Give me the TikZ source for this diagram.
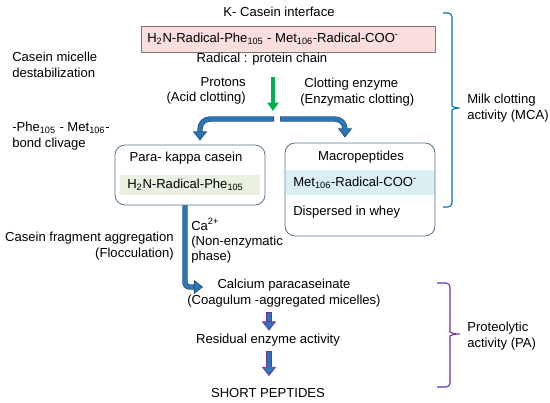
\documentclass[tikz,border=0pt]{standalone}
\usepackage{fontspec}
\setmainfont{Liberation Sans}
\usepackage{xcolor}
\usetikzlibrary{arrows.meta,calc}

\definecolor{rosa}{RGB}{250,222,222}
\definecolor{bordo}{RGB}{120,120,120}
\definecolor{verdino}{RGB}{234,240,224}
\definecolor{azzurrino}{RGB}{218,238,244}
\definecolor{cornice}{RGB}{90,115,140}
\definecolor{freccia}{RGB}{46,117,182}
\definecolor{frecciabordo}{RGB}{31,78,121}
\definecolor{verde}{RGB}{0,176,80}
\definecolor{viola}{RGB}{112,48,160}
\definecolor{blu}{RGB}{0,112,192}

\begin{document}
\begin{tikzpicture}[x=0.25mm, y=-0.25mm,
		line join=round,
		every node/.style={font=\fontsize{9.3}{11}\selectfont, inner sep=0pt},
		lbl/.style={align=center},
		sx/.style={anchor=west, align=left},
		scatola/.style={draw=cornice, line width=0.6pt, rounded corners=2.5mm, minimum width=37.5mm},
		fascia/.style={minimum height=5mm},
		fatarrow/.style={draw=#1, line width=3.8pt,
				-{Triangle[width=10pt,length=6.5pt,fill=freccia,line width=0.5pt]},
				postaction={draw=freccia, line width=2.8pt, shorten <=0.5pt, shorten >=6.7pt, -}},
		graffa/.style={draw=#1, line width=0.8pt, rounded corners=1mm}]

	\useasboundingbox (0,0) rectangle (550,403);

	% ---- interfaccia della k-caseina ----
	\node[lbl] (kcas) at (279,12) {K- Casein interface};
	\node[draw=bordo, fill=rosa, line width=0.5pt, minimum width=73.5mm, minimum height=6.5mm]
	(catena) at (288,39) {};
	\node[sx] (catenaseq) at (147,39)
	{H\textsubscript{2}N-Radical-Phe\textsubscript{105} - Met\textsubscript{106}-Radical-COO\textsuperscript{-}};
	\node[lbl] (radical) at (262,59) {Radical : protein chain};

	% ---- testi a sinistra ----
	\node[sx] (destab) at (12,65) {Casein micelle\\destabilization};
	\node[sx] (legame) at (12,136) {-Phe\textsubscript{105} - Met\textsubscript{106}-\\bond clivage};
	\node[anchor=east, align=right] (flocc) at (174,246) {Casein fragment aggregation\\(Flocculation)};

	% ---- agenti coagulanti ----
	\node[anchor=east, align=right] (protons) at (246,91) {Protons\\(Acid clotting)};
	\node[sx] (enzima) at (300,92) {\hspace*{3pt}Clotting enzyme\\(Enzymatic clotting)};

	% ---- para-kappa caseina ----
	\node[fascia, fill=verdino, minimum width=35mm] (paraband) at (190,185) {};
	\node[scatola, minimum height=15mm] (para) at (190,175) {};
	\node[lbl] (paratit) at (186,158) {Para- kappa casein};
	\node[sx] (paraseq) at (127,185) {H\textsubscript{2}N-Radical-Phe\textsubscript{105}};

	% ---- macropeptidi ----
	\node[fascia, fill=azzurrino, minimum width=37mm, minimum height=6.25mm] (macroband) at (360.5,182.5) {};
	\node[scatola, minimum height=23.25mm] (macro) at (360,189.5) {};
	\node[lbl] (macrotit) at (361,157) {Macropeptides};
	\node[sx] (macroseq) at (293,183) {Met\textsubscript{106}-Radical-COO\textsuperscript{-}};
	\node[sx] (siero) at (293,212) {Dispersed in whey};

	% ---- fase non enzimatica ----
	\node[sx] (calcio) at (191,241) {Ca\textsuperscript{2+}\\(Non-enzymatic\\phase)};
	\node[lbl] (calcium) at (284,293) {Calcium paracaseinate\\(Coagulum -aggregated micelles)};
	\node[lbl] (resid) at (268,340) {Residual enzyme activity};
	\node[lbl] (short) at (268,393) {SHORT PEPTIDES};

	% ---- attivita' ----
	\node[sx] (mca) at (467,108) {Milk clotting\\activity (MCA)};
	\node[sx] (pa) at (467,336) {Proteolytic\\activity (PA)};

	% ---- frecce ----
	\coordinate (gtop) at (273,77);
	\coordinate (split) at (276,119);
	\coordinate (calcin) at (203,287);
	\draw[verde, line width=2.6pt, -{Triangle[width=8pt,length=6pt]}] (gtop) -- (273,111);
	\draw[fatarrow=frecciabordo, rounded corners=2.5mm] ($(split)+(-2,0)$) -| ($(para.north)+(10,-4)$);
	\draw[fatarrow=frecciabordo, rounded corners=2.5mm] ($(split)+(4,0)$) -| ($(macro.north)+(-15,-5)$);
	\draw[fatarrow=frecciabordo, rounded corners=1mm] ($(para.south)+(-5,0)$) |- (calcin);
	\draw[fatarrow=viola] ($(calcium.south)+(-15,5)$) -- ($(resid.north)+(1,-3)$);
	\draw[fatarrow=viola] ($(resid.south)+(1,5)$) -- ($(short.north)+(1,-12)$);

	% ---- graffe ----
	\draw[graffa=blu] (443,13) -| (452,60) -- (452,102)
	.. controls (452,106) and (455,108) .. (462,108)
	.. controls (455,108) and (452,110) .. (452,114) |- (443,207);
	\draw[graffa=viola] (437,283) -| (450,300) -- (450,328)
	.. controls (450,332) and (453,334) .. (462,334)
	.. controls (453,334) and (450,336) .. (450,340) |- (437,387);

\end{tikzpicture}
\end{document}
